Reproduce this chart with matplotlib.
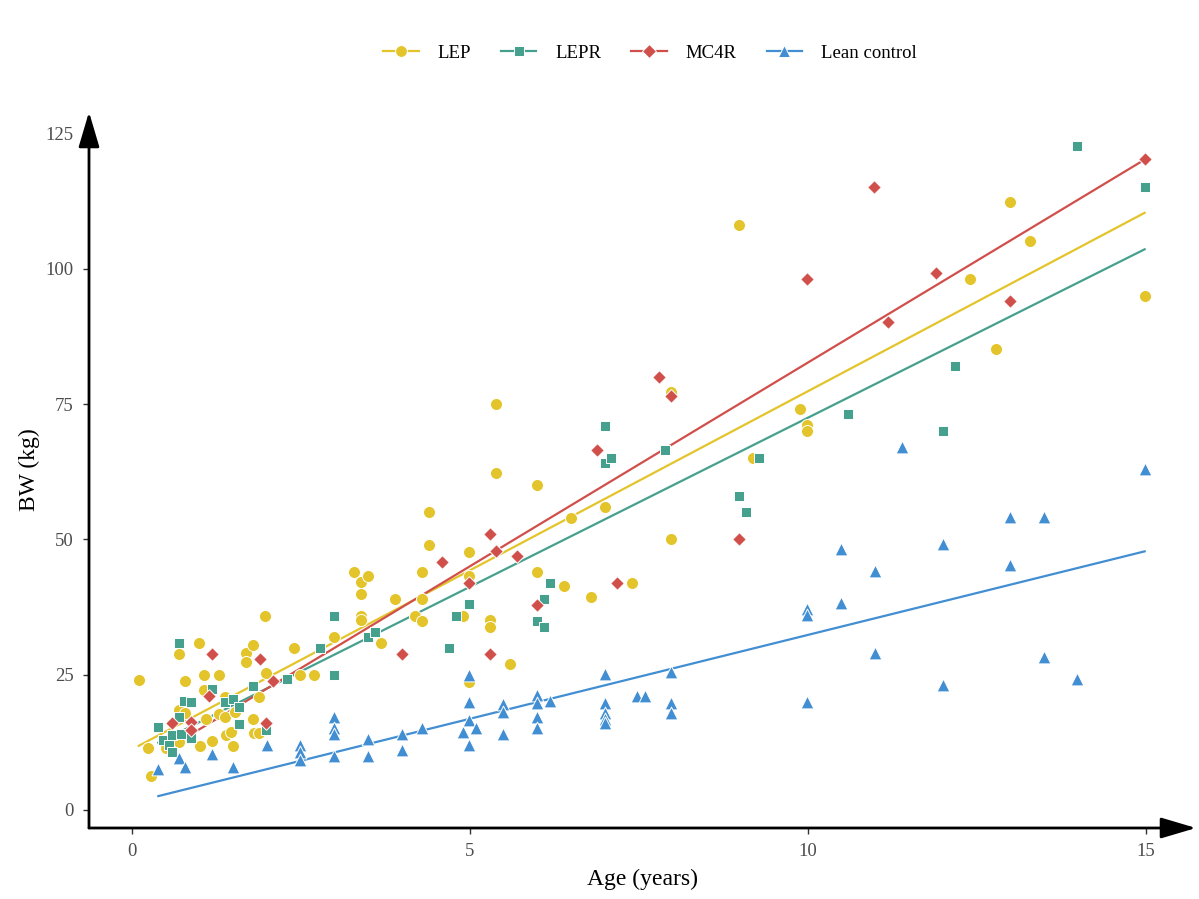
import numpy as np
import matplotlib
matplotlib.use("Agg")
import matplotlib.pyplot as plt
from matplotlib.lines import Line2D

plt.rcParams['font.family'] = ['Liberation Serif', 'DejaVu Serif']

# --- data ---
lep_age = [0.1, 0.24, 0.28, 0.5, 0.7, 0.69, 0.79, 0.7, 0.78, 0.99, 1.0, 1.07, 1.07, 1.09, 1.19,
           1.29, 1.28, 1.38, 1.38, 1.39, 1.47, 1.49, 1.52, 1.69, 1.69, 1.79, 1.79, 1.8, 1.88, 1.88,
           1.97, 1.98, 2.39, 2.49, 2.69, 2.99, 3.29, 3.39, 3.39, 3.39, 3.39, 3.49, 3.69, 3.89, 4.19,
           4.29, 4.29, 4.29, 4.39, 4.39, 4.89, 4.99, 4.99, 4.99, 5.29, 5.29, 5.39, 5.39, 5.59, 5.99,
           5.99, 6.39, 6.49, 6.79, 6.99, 7.39, 7.98, 7.98, 8.98, 9.18, 9.88, 9.99, 9.99, 12.39, 12.78,
           12.99, 13.28, 14.98]
lep_bw = [24.0, 11.5, 6.2, 11.4, 12.5, 28.9, 23.9, 18.5, 17.9, 30.9, 11.9, 24.9, 22.1, 16.9, 12.8,
          24.9, 17.7, 17.1, 20.9, 13.9, 14.5, 11.9, 18.2, 29.0, 27.4, 30.4, 16.9, 14.2, 14.2, 20.8,
          35.9, 25.4, 29.9, 24.9, 24.9, 31.9, 43.9, 42.1, 40.0, 35.9, 35.1, 43.3, 30.9, 39.0, 35.9,
          43.9, 39.0, 34.9, 55.0, 49.0, 35.9, 47.6, 43.3, 23.7, 35.1, 33.9, 75.0, 62.2, 26.9, 60.0,
          43.9, 41.4, 54.0, 39.4, 56.0, 41.9, 77.3, 50.0, 108.2, 65.0, 74.1, 71.2, 70.1, 98.2, 85.2,
          112.3, 105.2, 95.0]

lepr_age = [0.39, 0.46, 0.55, 0.59, 0.59, 0.69, 0.69, 0.73, 0.77, 0.88, 0.88, 1.18, 1.38, 1.49,
            1.59, 1.59, 1.79, 1.98, 2.29, 2.78, 2.99, 2.99, 3.49, 3.59, 4.69, 4.79, 4.99, 5.99, 6.09,
            6.09, 6.19, 6.99, 6.99, 7.09, 7.88, 8.98, 9.08, 9.28, 10.59, 11.99, 12.18, 13.98, 14.98]
lepr_bw = [15.4, 12.9, 12.1, 13.9, 10.8, 30.9, 17.1, 14.1, 20.1, 19.9, 13.3, 22.4, 20.0, 20.5,
           19.0, 15.9, 22.9, 14.8, 24.2, 29.9, 35.9, 24.9, 32.0, 32.9, 29.9, 35.9, 38.0, 35.0, 33.9,
           39.0, 42.0, 71.0, 64.1, 65.0, 66.5, 58.0, 55.0, 65.0, 73.1, 70.1, 82.1, 122.7, 115.2]

mc4r_age = [0.59, 0.88, 0.88, 1.14, 1.19, 1.89, 1.98, 2.09, 3.99, 4.59, 4.99, 5.29, 5.29, 5.39,
            5.69, 5.99, 6.88, 7.17, 7.79, 7.98, 8.98, 9.99, 10.98, 11.19, 11.89, 12.99, 14.98]
mc4r_bw = [16.0, 16.3, 14.8, 21.0, 28.9, 27.9, 16.0, 23.9, 28.9, 45.9, 42.0, 51.0, 28.8, 47.9,
           46.9, 37.9, 66.5, 42.0, 80.1, 76.5, 50.0, 98.2, 115.2, 90.1, 99.2, 94.1, 120.3]

lean_age = [0.39, 0.69, 0.79, 1.19, 1.49, 1.99, 2.49, 2.49, 2.49, 2.99, 2.99, 2.99, 2.99, 3.49,
            3.49, 3.99, 3.99, 4.29, 4.89, 4.99, 4.99, 4.99, 4.99, 5.09, 5.49, 5.49, 5.49, 5.99, 5.99,
            5.99, 5.99, 6.19, 6.99, 6.99, 6.99, 6.99, 6.99, 7.47, 7.59, 7.98, 7.98, 7.98, 9.99, 9.99,
            9.99, 10.49, 10.49, 10.99, 10.99, 11.39, 11.99, 11.99, 12.99, 12.99, 13.49, 13.49, 13.98,
            14.98]
lean_bw = [7.5, 9.6, 8.0, 10.4, 8.0, 12.1, 12.0, 10.8, 9.2, 17.1, 15.1, 14.0, 10.0, 13.1,
           10.0, 14.0, 11.1, 15.1, 14.5, 25.0, 20.0, 16.6, 12.0, 15.1, 19.5, 18.1, 14.0, 21.2, 19.7,
           17.1, 15.1, 20.2, 25.1, 19.7, 17.9, 16.9, 16.0, 21.1, 21.1, 25.5, 19.7, 18.0, 37.1, 36.1,
           20.0, 48.2, 38.2, 44.2, 29.1, 67.0, 49.2, 23.1, 54.2, 45.2, 54.2, 28.2, 24.2, 63.1]

# linear fit (intercept, slope)
fit_intercept = [11.2, 10.0, 7.4, 1.36]
fit_slope = [6.62, 6.25, 7.53, 3.10]

groups = ["LEP", "LEPR", "MC4R", "Lean control"]
colors = ["#E3C42B", "#46A08E", "#D14F4A", "#428ED3"]
markers = ["o", "s", "D", "^"]
sizes = [75, 58, 48, 85]
legend_ms = [8.5, 7.5, 7.0, 9.0]

ages = [lep_age, lepr_age, mc4r_age, lean_age]
bws = [lep_bw, lepr_bw, mc4r_bw, lean_bw]

fig = plt.figure(figsize=(11.99, 8.99), dpi=100)
ax = fig.add_axes([89 / 1199, 71 / 899, 1107 / 1199, 716 / 899])

for i in range(4):
    x = np.array(ages[i])
    xs = np.array([x.min(), x.max()])
    ax.plot(xs, fit_intercept[i] + fit_slope[i] * xs, color=colors[i], lw=1.6, zorder=2)

for i in range(4):
    ax.scatter(ages[i], bws[i], s=sizes[i], marker=markers[i], color=colors[i],
               edgecolor="white", linewidth=0.7, zorder=3)

ax.set_xlim(-0.636, 15.74)
ax.set_ylim(-3.33, 129)
ax.set_xticks([0, 5, 10, 15])
ax.set_yticks([0, 25, 50, 75, 100, 125])
ax.tick_params(length=4, width=1, color="#333333", labelcolor="#4D4D4D", labelsize=13.5, pad=7)

for s in ax.spines.values():
    s.set_visible(False)

arrow = dict(arrowstyle="-|>,head_length=1.08,head_width=0.32", lw=2, color="black",
             mutation_scale=20, shrinkA=0, shrinkB=0)
ax.annotate("", xy=(1, 0), xytext=(0, 0), xycoords="axes fraction", arrowprops=arrow)
ax.annotate("", xy=(0, 1), xytext=(0, 0), xycoords="axes fraction", arrowprops=arrow)

ax.set_xlabel("Age (years)", fontsize=17, labelpad=6)
ax.set_ylabel("BW (kg)", fontsize=17, labelpad=4)

handles = [Line2D([], [], color=colors[i], marker=markers[i], lw=1.6,
                  markersize=legend_ms[i], markeredgecolor="white",
                  markeredgewidth=0.7) for i in range(4)]
fig.legend(handles, groups, loc="center", bbox_to_anchor=(0.542, 0.941), ncol=4,
           frameon=False, fontsize=13.5, handlelength=1.9, handletextpad=1.0,
           columnspacing=1.6)

fig.savefig("out.png", dpi=100)
